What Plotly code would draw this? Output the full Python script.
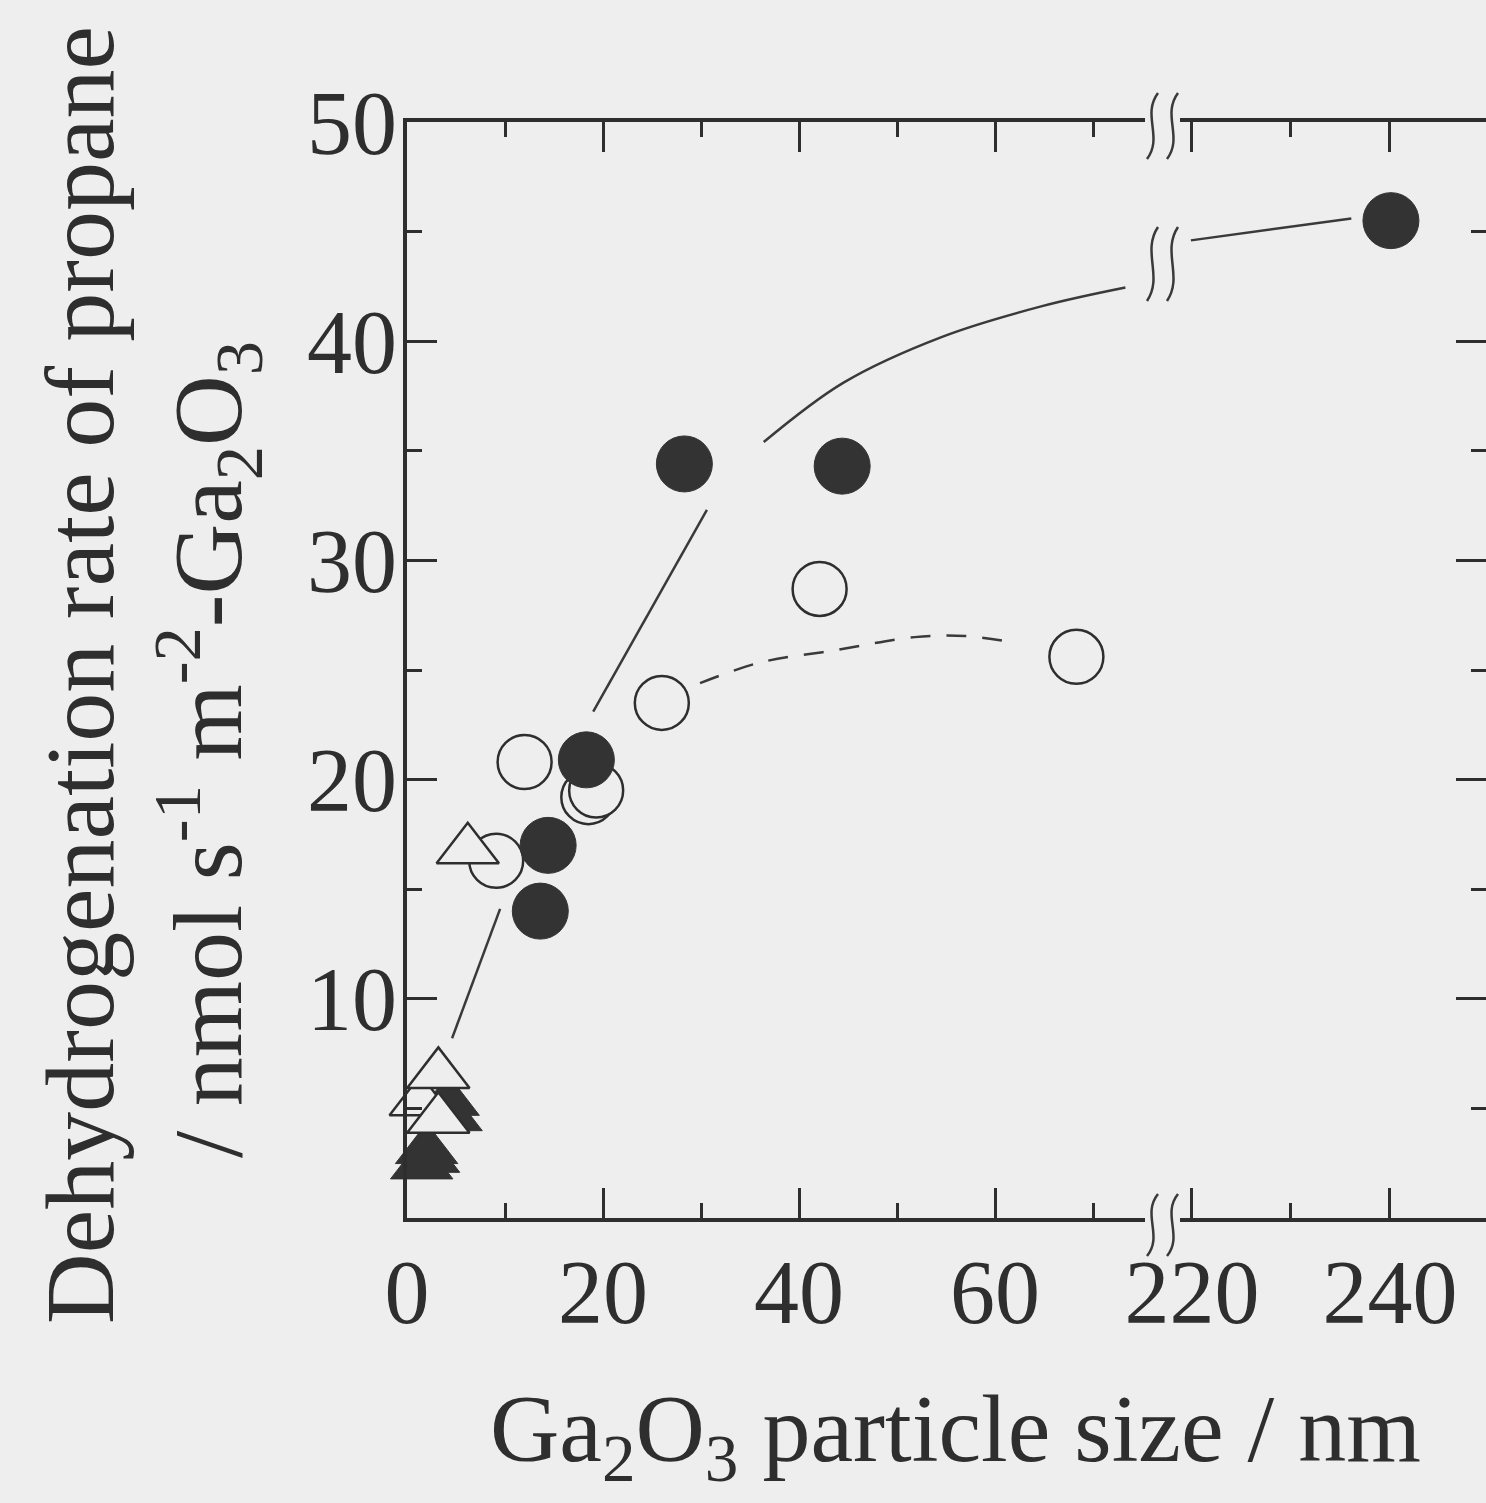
import plotly.graph_objects as go

# ---------------- data ----------------
filled_circle_x = [13.6, 14.4, 18.3, 28.3, 44.4]
filled_circle_y = [14.0, 17.0, 20.9, 34.4, 34.3]
filled_circle_far_x = [240.1]
filled_circle_far_y = [45.5]

open_circle_x = [12.0, 9.1, 18.5, 19.3, 26.0, 42.1, 68.3]
open_circle_y = [20.8, 16.3, 19.2, 19.5, 23.5, 28.7, 25.6]

open_triangle_x = [1.4, 3.2, 3.2, 6.2]
open_triangle_y = [5.3, 4.5, 6.55, 16.8]

filled_triangle_x = [4.2, 4.5, 2.0, 2.2, 1.5]
filled_triangle_y = [5.3, 4.6, 3.1, 2.7, 2.4]

# hand-drawn guide curves
guide1_x = [4.6, 9.5]
guide1_y = [8.2, 14.1]
guide2_x = [19.0, 30.6]
guide2_y = [23.1, 32.3]
guide3_x = [36.4, 44.5, 54.6, 64.8, 73.3]
guide3_y = [35.4, 38.1, 40.2, 41.6, 42.45]
guide4_x = [219.9, 236.1]
guide4_y = [44.6, 45.6]
dashed_x = [29.9, 36.1, 43.7, 51.8, 56.95, 61.3]
dashed_y = [24.4, 25.35, 25.9, 26.5, 26.55, 26.3]

# axes
x_left_range = [0, 75.3]
x_right_range = [218.8, 249.7]
y_range = [0, 50]
x_left_ticks = [0, 20, 40, 60]
x_left_minor = [10, 30, 50, 70]
x_right_ticks = [220, 240]
x_right_minor = [230]
y_ticks = [10, 20, 30, 40, 50]
y_minor = [5, 15, 25, 35, 45]

x_title = "Ga<sub>2</sub>O<sub>3</sub> particle size / nm"
y_title_1 = "Dehydrogenation rate of propane"
y_title_2 = "/ nmol s<sup>-1</sup> m<sup>-2</sup>-Ga<sub>2</sub>O<sub>3</sub>"

# ---------------- style / layout ----------------
BG = "#eeeeee"
INK = "#2e2e2e"
FONT = "Liberation Serif, Times New Roman, serif"

W, H = 1486, 1503
ML, MT, MB, MR = 407, 122, 285, 0
PW = W - ML - MR
PH = H - MT - MB
GAP_L, GAP_R = 1145, 1180
dom1 = [0, (GAP_L - ML) / PW]
dom2 = [(GAP_R - ML) / PW, 1]


def paper(px, py):
    return (px - ML) / PW, (MT + PH - py) / PH


def s_curve(cx, cy, w, h):
    pts = [(cx + w / 2, cy - h / 2), (cx - w, cy - h / 6),
           (cx + w, cy + h / 6), (cx - w / 2, cy + h / 2)]
    p = [paper(*q) for q in pts]
    return "M{:.5f},{:.5f} C{:.5f},{:.5f} {:.5f},{:.5f} {:.5f},{:.5f}".format(
        p[0][0], p[0][1], p[1][0], p[1][1], p[2][0], p[2][1], p[3][0], p[3][1])


fig = go.Figure()

line_style = dict(color="#3a3a3a", width=2.5)
# guide lines
fig.add_trace(go.Scatter(x=guide1_x, y=guide1_y, mode="lines", line=line_style,
                         xaxis="x", yaxis="y", cliponaxis=False))
fig.add_trace(go.Scatter(x=guide2_x, y=guide2_y, mode="lines", line=line_style,
                         xaxis="x", yaxis="y", cliponaxis=False))
fig.add_trace(go.Scatter(x=guide3_x, y=guide3_y, mode="lines",
                         line=dict(color="#3a3a3a", width=2.5, shape="spline"),
                         xaxis="x", yaxis="y", cliponaxis=False))
fig.add_trace(go.Scatter(x=dashed_x, y=dashed_y, mode="lines",
                         line=dict(color="#3a3a3a", width=2.5, shape="spline", dash="20px,16px"),
                         xaxis="x", yaxis="y", cliponaxis=False))
fig.add_trace(go.Scatter(x=guide4_x, y=guide4_y, mode="lines", line=line_style,
                         xaxis="x2", yaxis="y2", cliponaxis=False))

# markers
open_marker = dict(color=BG, line=dict(color=INK, width=2.5))
fig.add_trace(go.Scatter(x=open_circle_x, y=open_circle_y, mode="markers",
                         marker=dict(symbol="circle", size=54, **open_marker),
                         xaxis="x", yaxis="y", cliponaxis=False))
fig.add_trace(go.Scatter(x=filled_triangle_x, y=filled_triangle_y, mode="markers",
                         marker=dict(symbol="triangle-up", size=54, color="#333333",
                                     line=dict(color="#333333", width=1)),
                         xaxis="x", yaxis="y", cliponaxis=False))
fig.add_trace(go.Scatter(x=open_triangle_x, y=open_triangle_y, mode="markers",
                         marker=dict(symbol="triangle-up", size=54, **open_marker),
                         xaxis="x", yaxis="y", cliponaxis=False))
fig.add_trace(go.Scatter(x=filled_circle_x, y=filled_circle_y, mode="markers",
                         marker=dict(symbol="circle", size=56, color="#333333",
                                     line=dict(color="#333333", width=1)),
                         xaxis="x", yaxis="y", cliponaxis=False))
fig.add_trace(go.Scatter(x=filled_circle_far_x, y=filled_circle_far_y, mode="markers",
                         marker=dict(symbol="circle", size=56, color="#333333",
                                     line=dict(color="#333333", width=1)),
                         xaxis="x2", yaxis="y2", cliponaxis=False))

tickfont = dict(family=FONT, size=90, color=INK)
base_axis = dict(showline=True, linecolor=INK, linewidth=4, ticks="inside",
                 tickcolor=INK, tickwidth=2.5, ticklen=30, showgrid=False,
                 zeroline=False, tickfont=tickfont, fixedrange=True)


def minor(vals):
    return dict(tickvals=vals, ticks="inside", ticklen=15, tickwidth=2.5,
                tickcolor=INK, showgrid=False)


mid = (GAP_L + GAP_R) / 2
shapes = []
for cy, h in [(1225, 62), (126, 66), (264, 74)]:
    for dx in (-10, 10):
        shapes.append(dict(type="path", xref="paper", yref="paper",
                           path=s_curve(mid + dx, cy, 11, h),
                           line=dict(color="#3a3a3a", width=2.5)))

fig.update_layout(
    width=W, height=H,
    margin=dict(l=ML, r=MR, t=MT, b=MB, pad=0),
    paper_bgcolor=BG, plot_bgcolor=BG,
    showlegend=False,
    font=dict(family=FONT, color=INK),
    xaxis=dict(base_axis, domain=dom1, range=x_left_range, anchor="y",
               tickvals=x_left_ticks, minor=minor(x_left_minor), mirror="ticks",
               ticklabelstandoff=-7),
    xaxis2=dict(base_axis, domain=dom2, range=x_right_range, anchor="y2",
                tickvals=x_right_ticks, minor=minor(x_right_minor), mirror="ticks",
                ticklabelstandoff=-7),
    yaxis=dict(base_axis, domain=[0, 1], range=y_range, anchor="x",
               tickvals=y_ticks, minor=minor(y_minor), ticklabelstandoff=-12),
    yaxis2=dict(base_axis, domain=[0, 1], range=y_range, anchor="x2", side="right",
                tickvals=y_ticks, minor=minor(y_minor), showticklabels=False),
    shapes=shapes,
    annotations=[
        dict(text=x_title, xref="paper", yref="paper",
             x=paper(955, 0)[0], y=paper(0, 1435)[1], xanchor="center", yanchor="middle",
             showarrow=False, font=dict(family=FONT, size=96, color=INK)),
        dict(text=y_title_1, xref="paper", yref="paper", textangle=-90,
             x=paper(80, 0)[0], y=paper(0, 675)[1], xanchor="center", yanchor="middle",
             showarrow=False, font=dict(family=FONT, size=98, color=INK)),
        dict(text=y_title_2, xref="paper", yref="paper", textangle=-90,
             x=paper(208, 0)[0], y=paper(0, 750)[1], xanchor="center", yanchor="middle",
             showarrow=False, font=dict(family=FONT, size=98, color=INK)),
    ],
)

fig.write_html("out.html")
